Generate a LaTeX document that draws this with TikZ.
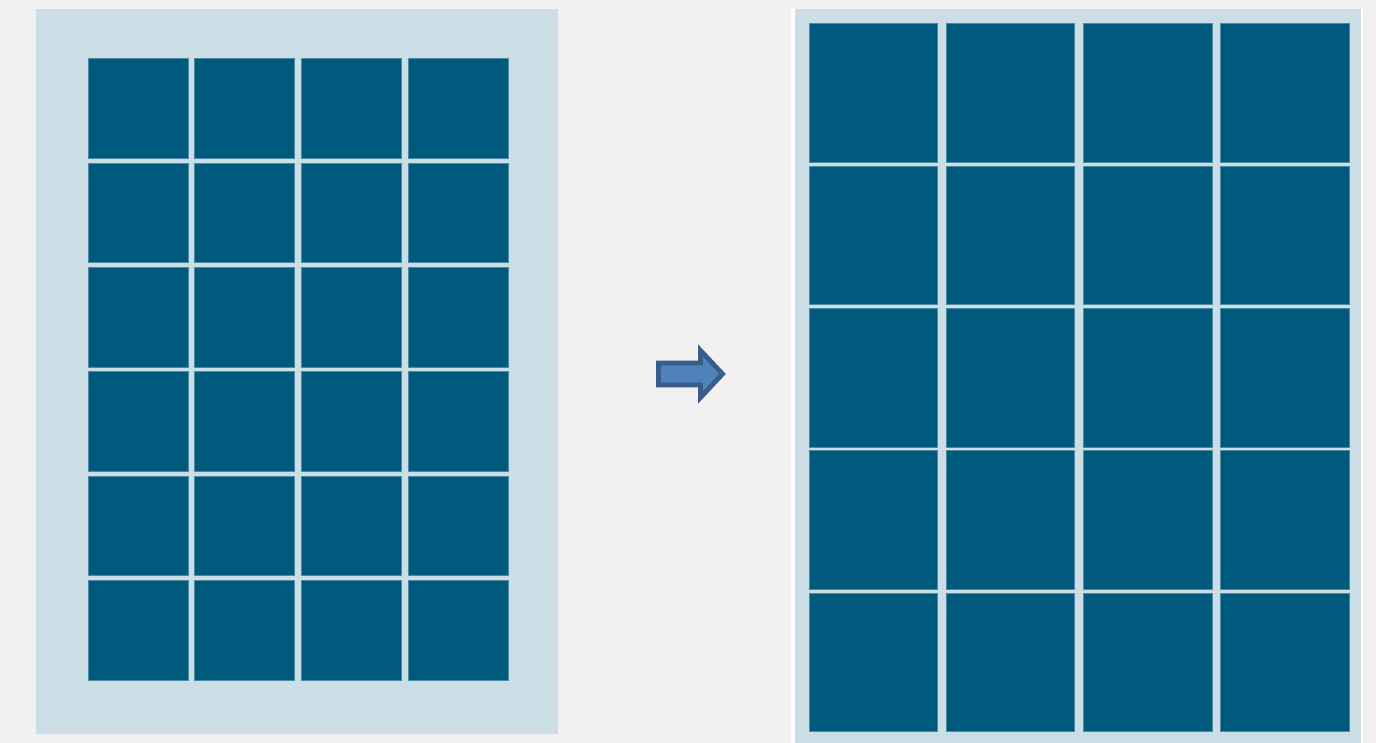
\documentclass[tikz,border=0pt]{standalone}
\usepackage{tikz}
\definecolor{pagebg}{HTML}{F1F1F1}
\definecolor{panelbg}{HTML}{CCDEE5}
\definecolor{cellfill}{HTML}{005A7D}
\definecolor{celledge}{HTML}{4F8AA5}
\definecolor{arrowfill}{HTML}{4F81BD}
\definecolor{arrowedge}{HTML}{385D8A}
\tikzset{
  panel/.style={fill=panelbg, draw=none},
  cell/.style={fill=cellfill, draw=celledge, line width=0.5pt},
  bigarrow/.style={fill=arrowfill, draw=arrowedge, line width=2.4pt, line join=miter},
}
\begin{document}
\begin{tikzpicture}[x=0.5pt, y=-0.5pt]
  \useasboundingbox (0,0) rectangle (1376,743);
  \fill[pagebg] (0,0) rectangle (1376,743);
  % left panel
  \fill[panel] (36,9) rectangle (558,734);
  \foreach \c in {0,...,3} {
    \foreach \r in {0,...,5} {
      \path[cell] ({88+106.7*\c},{58.7+104.4*\r}) rectangle ++(100,99.5);
    }
  }
  % right panel
  \fill[white] (791,9) rectangle (1363,743);
  \fill[panel] (795,9) rectangle (1360.7,743);
  \foreach \c in {0,...,3} {
    \foreach \r in {0,...,4} {
      \path[cell] ({809+137.3*\c},{24+142.25*\r}) rectangle ++(128.5,138.5);
    }
  }
  % arrow
  \coordinate (a1) at (658.5,363);
  \coordinate (a2) at (700.5,363);
  \coordinate (a3) at (700.5,350.5);
  \coordinate (a4) at (722.5,374);
  \coordinate (a5) at (700.5,397.5);
  \coordinate (a6) at (700.5,385);
  \coordinate (a7) at (658.5,385);
  \draw[bigarrow] (a1) -- (a2) -- (a3) -- (a4) -- (a5) -- (a6) -- (a7) -- cycle;
\end{tikzpicture}
\end{document}
